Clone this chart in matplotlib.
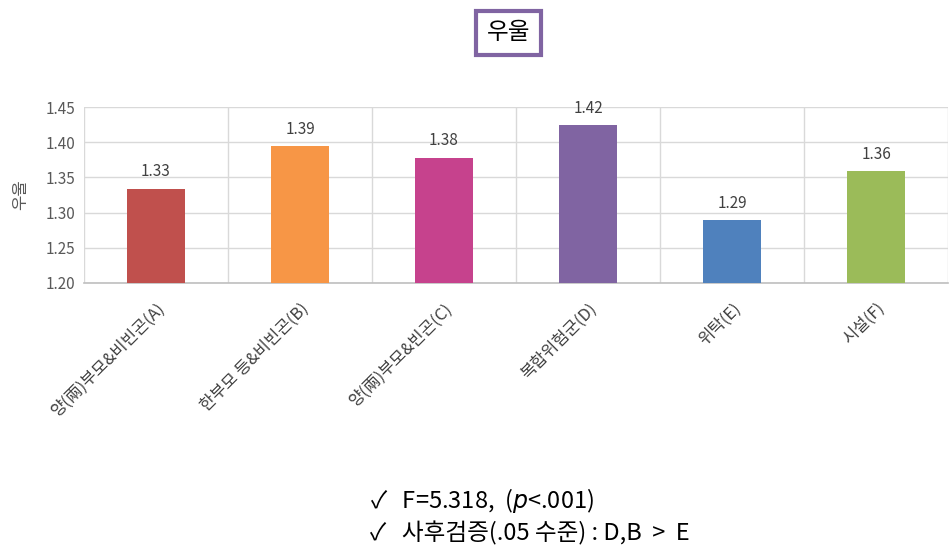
import matplotlib
matplotlib.use('Agg')
import matplotlib.pyplot as plt
import numpy as np

plt.rcParams['font.family'] = ['Noto Sans CJK KR', 'DejaVu Sans']
plt.rcParams['mathtext.fontset'] = 'custom'
plt.rcParams['mathtext.it'] = 'DejaVu Sans:italic'

groups = ['양(兩)부모&비빈곤(A)', '한부모 등&비빈곤(B)', '양(兩)부모&빈곤(C)',
          '복합위험군(D)', '위탁(E)', '시설(F)']
values = [1.334, 1.394, 1.378, 1.424, 1.289, 1.359]
shown = ['1.33', '1.39', '1.38', '1.42', '1.29', '1.36']
colors = ['#C0504D', '#F79646', '#C6428D', '#8064A2', '#4F81BD', '#9BBB59']
yticks = [1.20, 1.25, 1.30, 1.35, 1.40, 1.45]

fig = plt.figure(figsize=(9.5, 5.48), dpi=100)
ax = fig.add_axes([0.0884, 0.4836, 0.9096, 0.3211])

x = np.arange(len(groups))
ax.bar(x, [v - 1.2 for v in values], bottom=1.2, width=0.4, color=colors, zorder=3)
for xi, v, s in zip(x, values, shown):
    ax.text(xi, v + 0.012, s, ha='center', va='bottom', fontsize=11, color='#404040')

ax.set_xlim(-0.5, len(groups) - 0.5)
ax.set_ylim(1.2, 1.45)
ax.set_yticks(yticks)
ax.set_yticklabels(['%.2f' % t for t in yticks], fontsize=11, color='#595959')
ax.set_xticks(x)
ax.set_xticklabels(groups, rotation=45, ha='right', rotation_mode='anchor',
                   fontsize=12, color='#404040')
ax.set_xticks(np.arange(-0.5, len(groups)), minor=True)
ax.tick_params(which='both', length=0)
ax.tick_params(axis='x', pad=12)
ax.tick_params(axis='y', pad=6)
ax.grid(axis='y', color='#D9D9D9', linewidth=1, zorder=0)
ax.grid(axis='x', which='minor', color='#D9D9D9', linewidth=1, zorder=0)
for side in ['top', 'right', 'left']:
    ax.spines[side].set_visible(False)
ax.spines['bottom'].set_color('#BFBFBF')
ax.spines['bottom'].set_linewidth(1.2)
ax.set_ylabel('우울', fontsize=12, color='#595959', labelpad=12)

fig.text(0.5355, 0.94, '우울', ha='center', va='center', fontsize=17,
         bbox=dict(boxstyle='square,pad=0.45', facecolor='white',
                   edgecolor='#8064A2', linewidth=3))

fig.text(0.39, 0.086, '✓   F=5.318,  ($\\it{p}$<.001)', fontsize=17, va='center')
fig.text(0.39, 0.026, '✓   사후검증(.05 수준) : D,B  >  E', fontsize=17, va='center')

fig.savefig('out.png', dpi=100)
